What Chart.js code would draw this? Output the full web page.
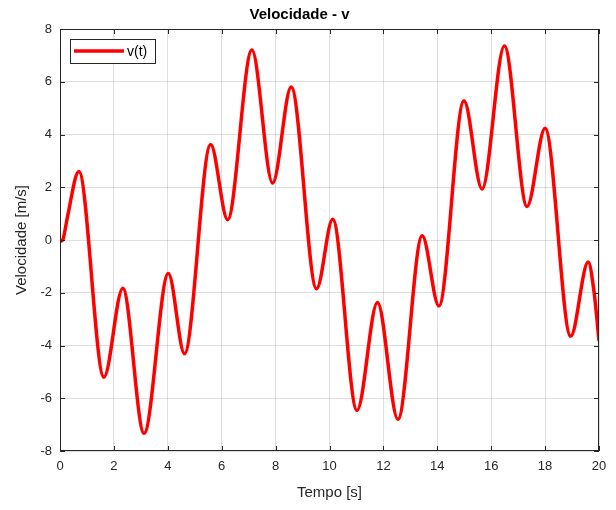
<!DOCTYPE html>
<html lang="pt">
<head>
  <meta charset="UTF-8" />
  <title>Velocidade - v</title>
  <style>
    html, body { margin: 0; padding: 0; background: #fff; }
    #wrap { width: 616px; height: 510px; }
  </style>
</head>
<body>
  <div id="wrap"><canvas id="grafico" width="616" height="510"></canvas></div>

  <script src="https://cdn.jsdelivr.net/npm/chart.js"></script>
  <script>
    // valores (extremos e alguns pontos intermédios)
    const tempo = [0, 0.1, 0.22, 0.29, 0.7, 1.63, 2.33, 3.12, 4.02, 4.62, 5.59, 6.22, 7.12, 7.89, 8.58,
      9.52, 10.12, 11.02, 11.78, 12.54, 13.44, 14.06, 14.99, 15.66, 16.49, 17.33, 18.0, 18.95, 19.6, 19.82, 20];
    const velocidade = [-0.05, 0.0, 0.56, 0.94, 2.6, -5.2, -1.83, -7.33, -1.27, -4.31, 3.62, 0.77, 7.2, 2.16, 5.8,
      -1.85, 0.79, -6.46, -2.37, -6.8, 0.16, -2.5, 5.28, 1.93, 7.36, 1.27, 4.24, -3.65, -0.83, -2.0, -3.82];
    const ticksX = [0, 2, 4, 6, 8, 10, 12, 14, 16, 18, 20];
    const ticksY = [-8, -6, -4, -2, 0, 2, 4, 6, 8];

    const corTexto = "#262626";
    const fonte = "'Liberation Sans', Arial, Helvetica, sans-serif";

    // moldura com marcas para dentro + legenda dentro do gráfico
    const moldura = {
      id: "moldura",
      afterDraw(chart) {
        const { ctx, chartArea: a, scales } = chart;
        ctx.save();
        ctx.strokeStyle = corTexto;
        ctx.lineWidth = 1;
        ctx.strokeRect(a.left + 0.5, a.top + 0.5, a.right - a.left - 1, a.bottom - a.top - 1);
        ctx.beginPath();
        ticksX.forEach(v => {
          const x = Math.round(scales.x.getPixelForValue(v)) + 0.5;
          ctx.moveTo(x, a.bottom); ctx.lineTo(x, a.bottom - 5);
          ctx.moveTo(x, a.top); ctx.lineTo(x, a.top + 5);
        });
        ticksY.forEach(v => {
          const y = Math.round(scales.y.getPixelForValue(v)) + 0.5;
          ctx.moveTo(a.left, y); ctx.lineTo(a.left + 5, y);
          ctx.moveTo(a.right, y); ctx.lineTo(a.right - 5, y);
        });
        ctx.stroke();

        // legenda
        const ds = chart.data.datasets[0];
        const lx = a.left + 10, ly = a.top + 10;
        ctx.fillStyle = "#fff";
        ctx.fillRect(lx, ly, 85, 24);
        ctx.strokeStyle = corTexto;
        ctx.strokeRect(lx + 0.5, ly + 0.5, 85, 24);
        ctx.strokeStyle = ds.borderColor;
        ctx.lineWidth = 3.5;
        ctx.beginPath();
        ctx.moveTo(lx + 4, ly + 12); ctx.lineTo(lx + 54, ly + 12);
        ctx.stroke();
        ctx.fillStyle = "#000";
        ctx.font = "14px " + fonte;
        ctx.textBaseline = "middle";
        ctx.fillText(ds.label, lx + 57, ly + 13);
        ctx.restore();
      }
    };

    const ctx = document.getElementById("grafico").getContext("2d");
    new Chart(ctx, {
      type: "line",
      data: {
        datasets: [{
          label: "v(t)",
          data: tempo.map((t, i) => ({ x: t, y: velocidade[i] })),
          borderColor: "#ff0000",
          borderWidth: 3.5,
          pointRadius: 0,
          cubicInterpolationMode: "monotone",
          fill: false
        }]
      },
      options: {
        responsive: false,
        animation: false,
        layout: { padding: { left: 0, right: 17, top: 0, bottom: 0 } },
        plugins: {
          legend: { display: false },
          tooltip: { enabled: false },
          title: {
            display: true,
            text: "Velocidade - v",
            color: "#000",
            font: { family: fonte, size: 15, weight: "bold" },
            padding: { top: 6, bottom: 5 }
          }
        },
        scales: {
          x: {
            type: "linear",
            min: 0, max: 20,
            afterBuildTicks: s => { s.ticks = ticksX.map(v => ({ value: v })); },
            afterFit: s => { s.height = 59; },
            grid: { color: "rgba(0,0,0,0.13)", drawTicks: false },
            border: { display: false },
            ticks: { color: corTexto, font: { family: fonte, size: 13 }, padding: 8, maxRotation: 0 },
            title: { display: true, text: "Tempo [s]", color: corTexto,
              font: { family: fonte, size: 15 }, padding: { top: 0, bottom: 8 } }
          },
          y: {
            min: -8, max: 8,
            afterBuildTicks: s => { s.ticks = ticksY.map(v => ({ value: v })); },
            afterFit: s => { s.width = 60; },
            grid: { color: "rgba(0,0,0,0.13)", drawTicks: false },
            border: { display: false },
            ticks: { color: corTexto, font: { family: fonte, size: 13 }, padding: 8 },
            title: { display: true, text: "Velocidade [m/s]", color: corTexto,
              font: { family: fonte, size: 15 }, padding: { top: 13, bottom: 0 } }
          }
        }
      },
      plugins: [moldura]
    });
  </script>
</body>
</html>
